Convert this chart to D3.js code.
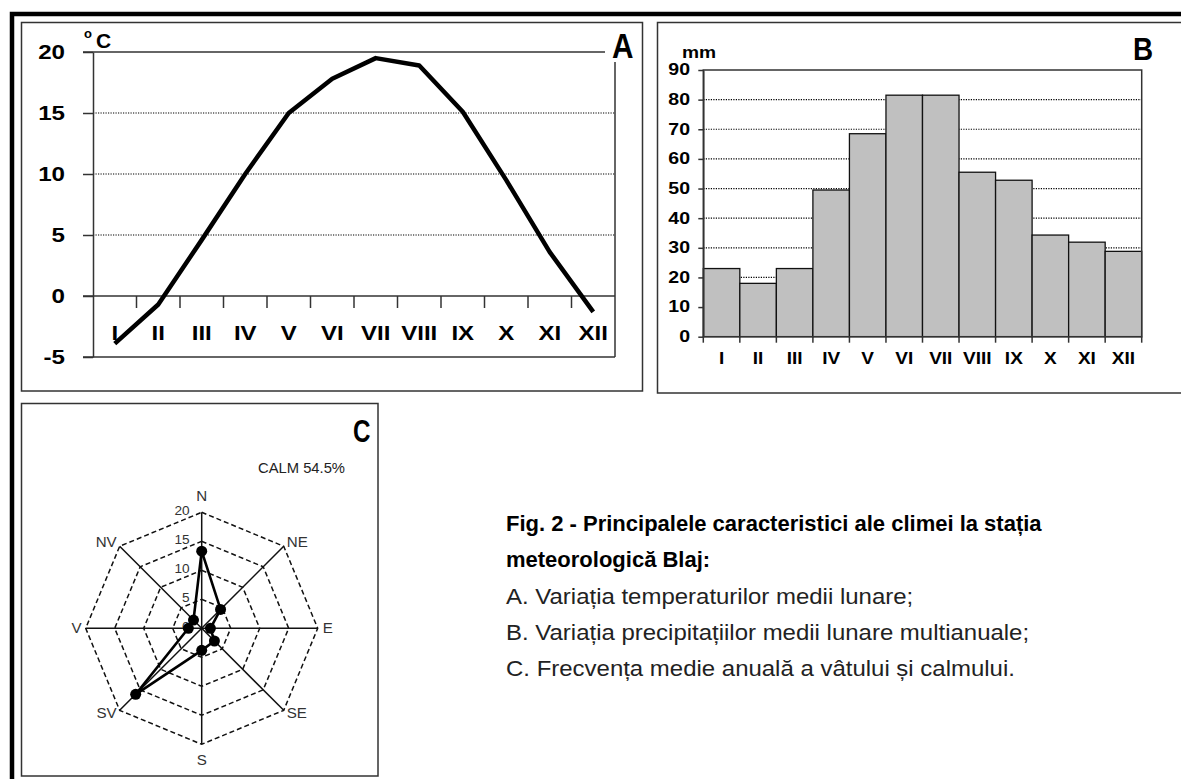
<!DOCTYPE html>
<html><head><meta charset="utf-8">
<script src="https://cdn.jsdelivr.net/npm/d3@7"></script>
<style>
html,body{margin:0;padding:0;background:#fff;}
svg{display:block;}
text{font-family:"Liberation Sans",Arial,sans-serif;}
</style></head><body>
<svg id="chart" width="1181" height="779"></svg>
<script>
// ---------- data ----------
const months = ["I","II","III","IV","V","VI","VII","VIII","IX","X","XI","XII"];
const tempValues = [-3.9, -0.7, 4.6, 10.0, 15.0, 17.8, 19.5, 18.9, 15.1, 9.5, 3.6, -1.3];
const tempTicks = [-5, 0, 5, 10, 15, 20];
const tempGrid = [5, 10, 15];
const precipValues = [23, 18, 23, 49.5, 68.5, 81.5, 81.5, 55.5, 52.8, 34.3, 31.9, 28.8];
const precipTicks = [0, 10, 20, 30, 40, 50, 60, 70, 80, 90];
const precipGrid = [10, 20, 30, 40, 50, 60, 70, 80];
const windDirections = ["N","NE","E","SE","S","SV","V","NV"];
const windValues = [13.3, 4.6, 1.5, 3.1, 3.8, 16.1, 2.3, 2.0];
const windTicks = [0, 5, 10, 15, 20];
const calmLabel = "CALM 54.5%";
const captionBold = ["Fig. 2 - Principalele caracteristici ale climei la stația", "meteorologică Blaj:"];
const captionItems = ["A. Variația temperaturilor medii lunare;", "B. Variația precipitațiilor medii lunare multianuale;", "C. Frecvența medie anuală a vâtului și calmului."];

const svg = d3.select("#chart");

function txt(g, x, y, s, o = {}) {
  const t = g.append("text")
    .attr("transform", `translate(${x},${y}) scale(${o.sx || 1},1)`)
    .attr("text-anchor", o.anchor || "start")
    .attr("dominant-baseline", o.base || "central")
    .attr("font-size", o.size || 14)
    .attr("font-weight", o.weight || "normal")
    .attr("fill", o.fill || "#000")
    .text(s);
  if (o.family) t.attr("font-family", o.family);
  if (o.len) t.attr("textLength", o.len).attr("lengthAdjust", "spacingAndGlyphs");
  return t;
}
const narrow = '"Liberation Sans Narrow","Liberation Sans",Arial,sans-serif';

// outer thick frame
svg.append("path").attr("d", "M12,779 L12,14 L1181,14").attr("fill", "none")
  .attr("stroke", "#000").attr("stroke-width", 4.5);

// ================= Panel A =================
const gA = svg.append("g");
gA.append("rect").attr("x", 21.5).attr("y", 22.5).attr("width", 621).attr("height", 368.5)
  .attr("fill", "none").attr("stroke", "#333").attr("stroke-width", 1.5);

const xA = d3.scaleBand().domain(months).range([93, 615]);
const xAb = d3.scaleLinear().domain([0, 12]).range([93, 615]);
const yA = d3.scaleLinear().domain([-5, 20]).range([357, 52]);
const bwA = xA.bandwidth();

gA.selectAll(".gridA").data(tempGrid).join("line")
  .attr("x1", 93).attr("x2", 615).attr("y1", d => yA(d)).attr("y2", d => yA(d))
  .attr("stroke", "#000").attr("stroke-width", 1.2).attr("stroke-dasharray", "1.2,1.3");

gA.append("g").attr("transform", "translate(93,0)")
  .call(d3.axisLeft(yA).tickValues(tempTicks).tickSize(10).tickSizeOuter(0).tickFormat(""))
  .call(g => g.selectAll("path,line").attr("stroke", "#333").attr("stroke-width", 1.5));
gA.append("line").attr("x1", 83).attr("x2", 605).attr("y1", yA(20)).attr("y2", yA(20)).attr("stroke", "#333").attr("stroke-width", 1.5);
gA.append("line").attr("x1", 83).attr("x2", 615).attr("y1", yA(-5)).attr("y2", yA(-5)).attr("stroke", "#333").attr("stroke-width", 1.5);
gA.append("line").attr("x1", 615).attr("x2", 615).attr("y1", 62).attr("y2", yA(-5)).attr("stroke", "#333").attr("stroke-width", 1.5);
gA.append("line").attr("x1", 83).attr("x2", 615).attr("y1", yA(0)).attr("y2", yA(0)).attr("stroke", "#333").attr("stroke-width", 1.5);
gA.selectAll(".tickA").data(d3.range(1, 12)).join("line")
  .attr("x1", d => xAb(d)).attr("x2", d => xAb(d)).attr("y1", yA(0)).attr("y2", yA(0) + 12)
  .attr("stroke", "#333").attr("stroke-width", 1.5);

tempTicks.forEach(v => txt(gA, 65, yA(v), String(v), {anchor: "end", size: 21, weight: "bold", sx: 1.15}));
months.forEach(m => txt(gA, xA(m) + bwA / 2, 333, m, {anchor: "middle", size: 20, weight: "bold", sx: 1.2}));

gA.append("path").datum(tempValues)
  .attr("d", d3.line().x((d, i) => xA(months[i]) + bwA / 2).y(d => yA(d)))
  .attr("fill", "none").attr("stroke", "#000").attr("stroke-width", 4.5).attr("stroke-linejoin", "round");

txt(gA, 84, 33, "o", {size: 13, weight: "bold"});
txt(gA, 96, 40, "C", {size: 21, weight: "bold"});
txt(gA, 612, 58, "A", {size: 35, weight: "bold", sx: 0.85, base: "alphabetic", family: narrow});

// ================= Panel B =================
const gB = svg.append("g");
gB.append("rect").attr("x", 657.5).attr("y", 22.5).attr("width", 600).attr("height", 370.5)
  .attr("fill", "none").attr("stroke", "#333").attr("stroke-width", 1.5);

const xB = d3.scaleBand().domain(months).range([703.3, 1141.7]).padding(0);
const xBb = d3.scaleLinear().domain([0, 12]).range([703.3, 1141.7]);
const yB = d3.scaleLinear().domain([0, 90]).range([336.7, 70]);

gB.selectAll(".gridB").data(precipGrid).join("line")
  .attr("x1", 703.3).attr("x2", 1141.7).attr("y1", d => yB(d)).attr("y2", d => yB(d))
  .attr("stroke", "#000").attr("stroke-width", 1.2).attr("stroke-dasharray", "1.2,1.3");

gB.selectAll(".bar").data(precipValues).join("rect")
  .attr("x", (d, i) => xB(months[i])).attr("width", xB.bandwidth())
  .attr("y", d => yB(d)).attr("height", d => yB(0) - yB(d))
  .attr("fill", "#c0c0c0").attr("stroke", "#111").attr("stroke-width", 1.3);

gB.append("rect").attr("x", 703.3).attr("y", yB(90)).attr("width", 1141.7 - 703.3).attr("height", yB(0) - yB(90))
  .attr("fill", "none").attr("stroke", "#333").attr("stroke-width", 1.5);
gB.append("g").attr("transform", "translate(703.3,0)")
  .call(d3.axisLeft(yB).tickValues(precipTicks).tickSize(5).tickSizeOuter(0).tickFormat(""))
  .call(g => g.selectAll("path,line").attr("stroke", "#333").attr("stroke-width", 1.5));
gB.selectAll(".tickB").data(d3.range(0, 13)).join("line")
  .attr("x1", d => xBb(d)).attr("x2", d => xBb(d)).attr("y1", yB(0)).attr("y2", yB(0) + 6)
  .attr("stroke", "#333").attr("stroke-width", 1.5);

precipTicks.forEach(v => txt(gB, 690, yB(v), String(v), {anchor: "end", size: 16, weight: "bold", sx: 1.22}));
months.forEach(m => txt(gB, xB(m) + xB.bandwidth() / 2, 358, m, {anchor: "middle", size: 17, weight: "bold", sx: 1.12}));
txt(gB, 682, 53, "mm", {size: 16, weight: "bold", sx: 1.2});
txt(gB, 1133, 60, "B", {size: 32, weight: "bold", sx: 0.87, base: "alphabetic", family: narrow});

// ================= Panel C =================
const gC = svg.append("g");
gC.append("rect").attr("x", 21.5).attr("y", 403.5).attr("width", 356.5).attr("height", 372.5)
  .attr("fill", "none").attr("stroke", "#333").attr("stroke-width", 1.5);

const cx = 201.7, cy = 628.3;
const rC = d3.scaleLinear().domain([0, 20]).range([0, 116]);
const ang = d3.scaleLinear().domain([0, windDirections.length]).range([0, 2 * Math.PI]);
const px = (i, v) => cx + rC(v) * Math.sin(ang(i));
const py = (i, v) => cy - rC(v) * Math.cos(ang(i));

windTicks.filter(v => v > 0).forEach(v => {
  gC.append("path")
    .attr("d", d3.line()(windDirections.map((d, i) => [px(i, v), py(i, v)])) + "Z")
    .attr("fill", "none").attr("stroke", "#111").attr("stroke-width", 1.5).attr("stroke-dasharray", "5,3");
});
gC.selectAll(".spoke").data(windDirections).join("line")
  .attr("x1", cx).attr("y1", cy)
  .attr("x2", (d, i) => px(i, 20)).attr("y2", (d, i) => py(i, 20))
  .attr("stroke", "#111").attr("stroke-width", 1.5);

windTicks.forEach(v => txt(gC, cx - 12, cy - rC(v) - 2, String(v), {anchor: "end", size: 13, fill: "#333", sx: 1.05}));

const lblOff = [[0, -16, "middle"], [3, -4, "start"], [5, 0, "start"], [3, 3, "start"], [0, 16, "middle"], [-3, 3, "end"], [-4, 0, "end"], [-3, -4, "end"]];
windDirections.forEach((d, i) => {
  const o = lblOff[i];
  txt(gC, px(i, 20) + o[0], py(i, 20) + o[1], d, {anchor: o[2], size: 14, fill: "#333", sx: 1.08});
});

const windPts = windValues.map((v, i) => [px(i, v), py(i, v)]);
gC.append("path").attr("d", d3.line()(windPts) + "Z")
  .attr("fill", "none").attr("stroke", "#000").attr("stroke-width", 2.6).attr("stroke-linejoin", "round");
gC.selectAll(".pt").data(windPts).join("circle")
  .attr("cx", d => d[0]).attr("cy", d => d[1]).attr("r", 5.5).attr("fill", "#000");

txt(gC, 353, 442, "C", {size: 31, weight: "bold", sx: 0.78, base: "alphabetic", family: narrow});
txt(gC, 258, 468, calmLabel, {size: 14, fill: "#222", len: 87});

// ================= Caption =================
const gT = svg.append("g");
const capY = [523, 559, 596, 632, 668];
captionBold.forEach((s, i) => txt(gT, 506, capY[i], s, {size: 22, weight: "bold", sx: 1.0, fill: "#000"}));
captionItems.forEach((s, i) => txt(gT, 506, capY[i + 2], s, {size: 22, sx: 1.09, fill: "#222"}));
</script>
</body></html>
